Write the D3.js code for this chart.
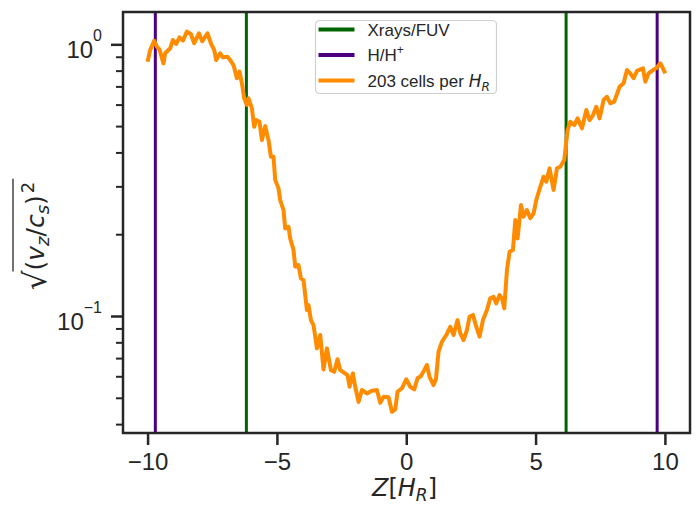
<!DOCTYPE html>
<html lang="en">
<head>
  <meta charset="UTF-8">
  <title>vz/cs profile</title>
  <style>
    html, body { margin: 0; background: #fff; }
    svg { display: block; }
  </style>
</head>
<body>
  <script src="https://d3js.org/d3.v7.min.js"></script>
  <script>
    // profile: height Z [H_R] and sqrt((vz/cs)^2)
    const zValues = [-10.00,-9.90,-9.745,-9.64,-9.54,-9.385,-9.32,-9.126,-9.022,-8.894,-8.766,-8.635,-8.48,-8.326,-8.198,-8.016,-7.889,-7.684,-7.552,-7.425,-7.347,-7.193,-7.088,-6.91,-6.806,-6.678,-6.547,-6.446,-6.353,-6.265,-6.16,-6.098,-5.967,-5.878,-5.8,-5.673,-5.58,-5.452,-5.325,-5.232,-5.132,-5.066,-4.938,-4.872,-4.745,-4.679,-4.551,-4.486,-4.358,-4.292,-4.165,-4.072,-3.971,-3.906,-3.84,-3.778,-3.685,-3.585,-3.453,-3.326,-3.198,-3.067,-2.912,-2.784,-2.657,-2.552,-2.398,-2.27,-2.193,-2.061,-1.972,-1.845,-1.713,-1.52,-1.326,-1.133,-1.005,-0.878,-0.684,-0.553,-0.425,-0.336,-0.166,0,0.155,0.309,0.437,0.568,0.696,0.8,0.901,1.056,1.148,1.249,1.38,1.547,1.701,1.829,1.984,2.088,2.216,2.347,2.448,2.579,2.707,2.834,2.966,3.121,3.248,3.376,3.48,3.608,3.701,3.79,3.894,3.995,4.126,4.215,4.304,4.435,4.536,4.667,4.795,4.923,5.027,5.182,5.309,5.414,5.541,5.696,5.827,5.955,6.11,6.237,6.342,6.497,6.624,6.794,6.961,7.088,7.22,7.347,7.475,7.63,7.761,7.889,8.043,8.248,8.403,8.534,8.662,8.79,8.921,9.153,9.242,9.37,9.54,9.667,9.822,9.926,10.015];
    const velValues = [0.863,0.953,1.031,0.980,0.958,0.851,0.927,0.967,1.037,1.003,1.061,1.031,1.113,1.091,1.009,1.098,1.026,1.098,1.009,0.953,0.875,0.927,0.896,0.900,0.875,0.839,0.750,0.793,0.719,0.633,0.598,0.633,0.581,0.497,0.526,0.519,0.444,0.500,0.444,0.386,0.386,0.317,0.295,0.267,0.2455,0.210,0.213,0.193,0.175,0.152,0.154,0.1376,0.1356,0.1194,0.1052,0.1097,0.0966,0.0926,0.0760,0.0851,0.0636,0.0760,0.0632,0.0623,0.0693,0.0632,0.0618,0.0606,0.0549,0.0615,0.0549,0.0483,0.0534,0.0519,0.0531,0.0534,0.0479,0.0504,0.0502,0.0444,0.0453,0.0526,0.0542,0.0585,0.0549,0.0537,0.0590,0.0601,0.0632,0.0660,0.0597,0.0557,0.0585,0.0739,0.0804,0.0851,0.0913,0.0851,0.0966,0.0863,0.0816,0.0888,0.0994,0.1009,0.0913,0.0839,0.0966,0.1052,0.1161,0.1177,0.1113,0.1194,0.1161,0.1067,0.1477,0.1724,0.175,0.2255,0.193,0.256,0.232,0.2455,0.229,0.2386,0.267,0.299,0.3256,0.312,0.3496,0.2909,0.3496,0.3543,0.375,0.4835,0.519,0.5045,0.534,0.4907,0.573,0.526,0.549,0.589,0.534,0.624,0.641,0.6065,0.615,0.698,0.719,0.804,0.782,0.750,0.799,0.816,0.728,0.782,0.804,0.816,0.851,0.816,0.782];

    // transition heights
    const xrayFuvZ = [-6.18, 6.18];
    const ionZ = [-9.7, 9.7];

    const xTicks = [-10, -5, 0, 5, 10];
    const yMajor = [0.1, 1];
    const yExp = ["\u22121", "0"];
    const yMinor = [0.04, 0.05, 0.06, 0.07, 0.08, 0.09, 0.2, 0.3, 0.4, 0.5, 0.6, 0.7, 0.8, 0.9];

    const W = 699, H = 506;
    const pLeft = 123, pRight = 690, pTop = 12, pBottom = 433;
    const ink = "#262626";
    const tickFont = "'Liberation Sans', Arial, sans-serif";
    const mathFont = "'DejaVu Sans', sans-serif";

    const svg = d3.select("body").append("svg")
      .attr("width", W)
      .attr("height", H);

    const x = d3.scaleLinear().domain([-10.95, 10.97]).range([pLeft, pRight]);
    const y = d3.scaleLog().domain([0.0371, 1.315]).range([pBottom, pTop]);

    // vertical marker lines
    xrayFuvZ.forEach(z => {
      svg.append("line")
        .attr("x1", x(z)).attr("x2", x(z))
        .attr("y1", pTop).attr("y2", pBottom)
        .attr("stroke", "#006400").attr("stroke-width", 3);
    });
    ionZ.forEach(z => {
      svg.append("line")
        .attr("x1", x(z)).attr("x2", x(z))
        .attr("y1", pTop).attr("y2", pBottom)
        .attr("stroke", "#4b0082").attr("stroke-width", 3);
    });

    // profile
    const pts = d3.zip(zValues, velValues);
    const line = d3.line().x(d => x(d[0])).y(d => y(d[1]));
    svg.append("path")
      .datum(pts)
      .attr("d", line)
      .attr("fill", "none")
      .attr("stroke", "#ff8c00")
      .attr("stroke-width", 4)
      .attr("stroke-linejoin", "round");

    // axes
    const xAxis = svg.append("g")
      .attr("transform", `translate(0,${pBottom})`)
      .call(d3.axisBottom(x).tickValues(xTicks).tickSize(12).tickPadding(8));
    xAxis.select(".domain").remove();
    xAxis.selectAll("line").attr("stroke", ink).attr("stroke-width", 2.5);
    xAxis.selectAll("text")
      .attr("fill", ink)
      .style("font-family", tickFont)
      .style("font-size", "24px");

    const yAxis = svg.append("g")
      .attr("transform", `translate(${pLeft},0)`)
      .call(d3.axisLeft(y).tickValues(yMajor).tickSize(12).tickFormat(""));
    yAxis.select(".domain").remove();
    yAxis.selectAll("line").attr("stroke", ink).attr("stroke-width", 2.5);

    const yMinorAxis = svg.append("g")
      .attr("transform", `translate(${pLeft},0)`)
      .call(d3.axisLeft(y).tickValues(yMinor).tickSize(7).tickFormat(""));
    yMinorAxis.select(".domain").remove();
    yMinorAxis.selectAll("line").attr("stroke", ink).attr("stroke-width", 2);

    // y tick labels as 10^n
    yMajor.forEach((v, i) => {
      const t = svg.append("text")
        .attr("x", 102)
        .attr("y", y(v) + 14)
        .attr("text-anchor", "end")
        .attr("fill", ink)
        .style("font-family", tickFont)
        .style("font-size", "24px");
      t.append("tspan").text("10");
      t.append("tspan").attr("dy", -17).style("font-size", "16px").text(yExp[i]);
    });

    // frame
    svg.append("rect")
      .attr("x", pLeft).attr("y", pTop)
      .attr("width", pRight - pLeft).attr("height", pBottom - pTop)
      .attr("fill", "none")
      .attr("stroke", ink)
      .attr("stroke-width", 2.5);

    // x label  Z[H_R]
    const xl = svg.append("text")
      .attr("x", (pLeft + pRight) / 2 - 2)
      .attr("y", 496)
      .attr("text-anchor", "middle")
      .attr("fill", ink)
      .style("font-family", mathFont)
      .style("font-size", "24px");
    xl.append("tspan").style("font-style", "italic").text("Z");
    xl.append("tspan").text("[");
    xl.append("tspan").style("font-style", "italic").text("H");
    xl.append("tspan").attr("dy", 5).style("font-style", "italic").style("font-size", "17px").text("R");
    xl.append("tspan").attr("dy", -5).text("]");

    // y label  sqrt((v_z/c_s)^2)
    const yl = svg.append("g").attr("transform", "translate(44,0) rotate(-90)");
    const rootSign = yl.append("text")
      .attr("x", 0).attr("y", 2)
      .attr("fill", ink)
      .style("font-family", mathFont)
      .style("font-size", "31px")
      .text("\u221a");
    const inner = yl.append("text")
      .attr("y", 0)
      .attr("fill", ink)
      .style("font-family", mathFont)
      .style("font-size", "25px");
    inner.append("tspan").text("(");
    inner.append("tspan").style("font-style", "italic").text("v");
    inner.append("tspan").attr("dy", 5).style("font-style", "italic").style("font-size", "18px").text("z");
    inner.append("tspan").attr("dy", -5).text("/");
    inner.append("tspan").style("font-style", "italic").text("c");
    inner.append("tspan").attr("dy", 5).style("font-style", "italic").style("font-size", "18px").text("s");
    inner.append("tspan").attr("dy", -5).text(")");
    inner.append("tspan").attr("dy", -10).attr("dx", 2).style("font-size", "18px").text("2");
    const rootW = rootSign.node().getComputedTextLength();
    const innerW = inner.node().getComputedTextLength() + 2;
    const total = rootW + innerW;
    const start = -236 - total / 2;
    rootSign.attr("x", start);
    inner.attr("x", start + rootW);
    yl.append("line")
      .attr("x1", start + rootW - 1).attr("x2", start + total + 3)
      .attr("y1", -31).attr("y2", -31)
      .attr("stroke", ink).attr("stroke-width", 1.3);

    // legend
    const legendColors = ["#006400", "#4b0082", "#ff8c00"];
    const lg = svg.append("g").attr("transform", "translate(315.5,20.5)");
    lg.append("rect")
      .attr("width", 181).attr("height", 73)
      .attr("rx", 4)
      .attr("fill", "#fff")
      .attr("stroke", "#d0d0d0")
      .attr("stroke-width", 1.2);
    legendColors.forEach((c, i) => {
      const cy = 9 + i * 25.5;
      lg.append("line")
        .attr("x1", 3).attr("x2", 39)
        .attr("y1", cy).attr("y2", cy)
        .attr("stroke", c).attr("stroke-width", 4);
    });
    const lt = (i) => lg.append("text")
      .attr("x", 52).attr("y", 9 + i * 25.5 + 6)
      .attr("fill", ink)
      .style("font-family", tickFont)
      .style("font-size", "17px");
    lt(0).text("Xrays/FUV");
    const t1 = lt(1);
    t1.append("tspan").text("H/H");
    t1.append("tspan").attr("dy", -7).style("font-size", "12px").text("+");
    const t2 = lt(2);
    t2.append("tspan").text("203 cells per ");
    t2.append("tspan").style("font-family", mathFont).style("font-style", "italic").text("H");
    t2.append("tspan").attr("dy", 4).style("font-family", mathFont).style("font-style", "italic").style("font-size", "12px").text("R");
  </script>
</body>
</html>
